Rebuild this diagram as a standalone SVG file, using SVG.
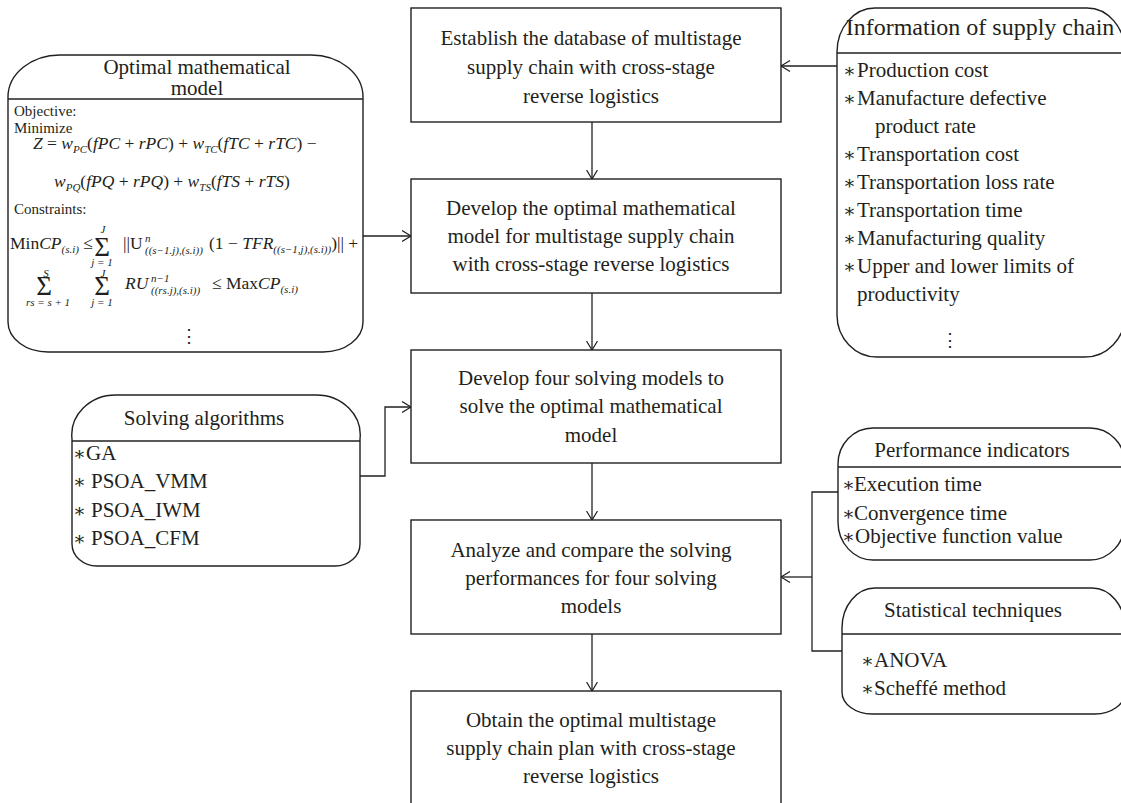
<svg xmlns="http://www.w3.org/2000/svg" width="1121" height="803" viewBox="0 0 1121 803">
  <style>
    .box { fill: #ffffff; stroke: #231f20; stroke-width: 1.4; }
    .ln { fill: none; stroke: #231f20; stroke-width: 1.3; }
    .t { font-family: "Liberation Serif", "DejaVu Serif", serif; font-size: 21px; fill: #231f20; }
    .c { text-anchor: middle; }
    .m { font-size: 17.5px; }
    .lb { font-size: 15px; }
    .s { font-size: 11px; }
    .it { font-style: italic; }
    .sig { font-size: 27px; }
    .hd { font-size: 24px; }
    .ast { font-size: 19px; }
    .dots { font-size: 18px; }
  </style>
  <defs>
    <marker id="ah" viewBox="0 0 12 12" markerWidth="12" markerHeight="12" refX="9.5" refY="6" orient="auto" markerUnits="userSpaceOnUse">
      <path d="M0.5,0.5 L9.5,6 L0.5,11.5" fill="none" stroke="#231f20" stroke-width="1.2"/>
    </marker>
  </defs>
  <rect width="1121" height="803" fill="#ffffff"/>

  <!-- connectors -->
  <g id="connectors">
    <line class="ln" x1="592" y1="122" x2="592" y2="179" marker-end="url(#ah)"/>
    <line class="ln" x1="592" y1="293" x2="592" y2="350" marker-end="url(#ah)"/>
    <line class="ln" x1="592" y1="463" x2="592" y2="520" marker-end="url(#ah)"/>
    <line class="ln" x1="592" y1="634" x2="592" y2="691" marker-end="url(#ah)"/>
    <line class="ln" x1="837" y1="66" x2="781" y2="66" marker-end="url(#ah)"/>
    <line class="ln" x1="363" y1="236" x2="411" y2="236" marker-end="url(#ah)"/>
    <polyline class="ln" points="360,476 385,476 385,407 411,407" marker-end="url(#ah)"/>
    <polyline class="ln" points="838,492 812,492 812,651 842,651"/>
    <line class="ln" x1="812" y1="577" x2="781" y2="577" marker-end="url(#ah)"/>
  </g>

  <!-- process steps -->
  <g id="step-database">
    <rect class="box" x="411" y="8" width="370" height="114"/>
    <text class="t c" x="591" y="45">Establish the database of multistage</text>
    <text class="t c" x="591" y="74">supply chain with cross-stage</text>
    <text class="t c" x="591" y="103">reverse logistics</text>
  </g>
  <g id="step-model">
    <rect class="box" x="411" y="179" width="370" height="114"/>
    <text class="t c" x="591" y="215">Develop the optimal mathematical</text>
    <text class="t c" x="591" y="243">model for multistage supply chain</text>
    <text class="t c" x="591" y="271">with cross-stage reverse logistics</text>
  </g>
  <g id="step-solving">
    <rect class="box" x="411" y="350" width="370" height="113"/>
    <text class="t c" x="591" y="385">Develop four solving models to</text>
    <text class="t c" x="591" y="413">solve the optimal mathematical</text>
    <text class="t c" x="591" y="442">model</text>
  </g>
  <g id="step-analyze">
    <rect class="box" x="411" y="520" width="370" height="114"/>
    <text class="t c" x="591" y="557">Analyze and compare the solving</text>
    <text class="t c" x="591" y="585">performances for four solving</text>
    <text class="t c" x="591" y="613">models</text>
  </g>
  <g id="step-obtain">
    <rect class="box" x="411" y="691" width="370" height="114"/>
    <text class="t c" x="591" y="727">Obtain the optimal multistage</text>
    <text class="t c" x="591" y="755">supply chain plan with cross-stage</text>
    <text class="t c" x="591" y="783">reverse logistics</text>
  </g>

  <!-- optimal mathematical model -->
  <g id="model-box">
    <path class="box" d="M8,97 A52,42 0 0 1 60,55 L311,55 A52,42 0 0 1 363,97 L363,322 A40,30 0 0 1 323,352 L48,352 A40,30 0 0 1 8,322 Z"/>
    <line class="ln" x1="8" y1="99" x2="363" y2="99"/>
    <text class="t c" x="197" y="74">Optimal mathematical</text>
    <text class="t c" x="197" y="95">model</text>
    <text class="t lb" x="14" y="116">Objective:</text>
    <text class="t lb" x="14" y="133">Minimize</text>
    <text class="t m" x="33" y="149"><tspan class="it">Z</tspan> = <tspan class="it">w</tspan><tspan class="s it" dy="4">PC</tspan><tspan dy="-4">(</tspan><tspan class="it">fPC</tspan> + <tspan class="it">rPC</tspan>) + <tspan class="it">w</tspan><tspan class="s it" dy="4">TC</tspan><tspan dy="-4">(</tspan><tspan class="it">fTC</tspan> + <tspan class="it">rTC</tspan>) −</text>
    <text class="t m" x="54" y="187"><tspan class="it">w</tspan><tspan class="s it" dy="4">PQ</tspan><tspan dy="-4">(</tspan><tspan class="it">fPQ</tspan> + <tspan class="it">rPQ</tspan>) + <tspan class="it">w</tspan><tspan class="s it" dy="4">TS</tspan><tspan dy="-4">(</tspan><tspan class="it">fTS</tspan> + <tspan class="it">rTS</tspan>)</text>
    <text class="t lb" x="14" y="214">Constraints:</text>
    <!-- first constraint -->
    <text class="t m" x="10" y="249">Min<tspan class="it">CP</tspan><tspan class="s it" dy="4">(s.i)</tspan><tspan dy="-4"> ≤</tspan></text>
    <text class="t sig c" x="102" y="256">Σ</text>
    <text class="t s it c" x="103" y="233">J</text>
    <text class="t s it c" x="102" y="266">j = 1</text>
    <text class="t m" x="123" y="249">||U</text>
    <text class="t s it" x="145" y="242">n</text>
    <text class="t s it" x="145" y="254">((s−1.j),(s.i))</text>
    <text class="t m" x="209" y="249">(1 − <tspan class="it">TFR</tspan><tspan class="s it" dy="4">((s−1,j),(s.i))</tspan><tspan dy="-4">)|| +</tspan></text>
    <!-- second constraint -->
    <text class="t sig c" x="44" y="295">Σ</text>
    <text class="t s it c" x="46" y="277">S</text>
    <text class="t s it c" x="48" y="306">rs = s + 1</text>
    <text class="t sig c" x="102" y="295">Σ</text>
    <text class="t s it c" x="103" y="277">J</text>
    <text class="t s it c" x="102" y="306">j = 1</text>
    <text class="t m it" x="125" y="289">RU</text>
    <text class="t s it" x="151" y="282">n−1</text>
    <text class="t s it" x="151" y="294">((rs.j),(s.i))</text>
    <text class="t m" x="212" y="289">≤ Max<tspan class="it">CP</tspan><tspan class="s it" dy="4">(s.i)</tspan></text>
    <text class="t dots c" x="189" y="342">⋮</text>
  </g>

  <!-- supply chain information -->
  <g id="info-box">
    <path class="box" d="M837,52 A38,44 0 0 1 875,8 L1087,8 A38,44 0 0 1 1125,52 L1125,315 A40,42 0 0 1 1085,357 L877,357 A40,42 0 0 1 837,315 Z"/>
    <line class="ln" x1="837" y1="53" x2="1125" y2="53"/>
    <text class="t hd c" x="980" y="35">Information of supply chain</text>
    <text class="t ast" x="843" y="77">∗</text><text class="t" x="857" y="77">Production cost</text>
    <text class="t ast" x="843" y="105">∗</text><text class="t" x="857" y="105">Manufacture defective</text>
    <text class="t" x="875" y="133">product rate</text>
    <text class="t ast" x="843" y="161">∗</text><text class="t" x="857" y="161">Transportation cost</text>
    <text class="t ast" x="843" y="189">∗</text><text class="t" x="857" y="189">Transportation loss rate</text>
    <text class="t ast" x="843" y="217">∗</text><text class="t" x="857" y="217">Transportation time</text>
    <text class="t ast" x="843" y="245">∗</text><text class="t" x="857" y="245">Manufacturing quality</text>
    <text class="t ast" x="843" y="273">∗</text><text class="t" x="857" y="273">Upper and lower limits of</text>
    <text class="t" x="857" y="301">productivity</text>
    <text class="t dots c" x="950" y="346">⋮</text>
  </g>

  <!-- solving algorithms -->
  <g id="algorithms-box">
    <path class="box" d="M72,439 A44,40 0 0 1 116,395 L316,395 A44,40 0 0 1 360,439 L360,544 A25,22 0 0 1 335,566 L97,566 A25,22 0 0 1 72,544 Z"/>
    <line class="ln" x1="72" y1="441" x2="360" y2="441"/>
    <text class="t c" x="204" y="425">Solving algorithms</text>
    <text class="t ast" x="73" y="460">∗</text><text class="t" x="86" y="460">GA</text>
    <text class="t ast" x="73" y="488">∗</text><text class="t" x="91" y="488">PSOA_VMM</text>
    <text class="t ast" x="73" y="517">∗</text><text class="t" x="91" y="517">PSOA_IWM</text>
    <text class="t ast" x="73" y="545">∗</text><text class="t" x="91" y="545">PSOA_CFM</text>
  </g>

  <!-- performance indicators -->
  <g id="performance-box">
    <path class="box" d="M838,464 A35,36 0 0 1 873,428 L1090,428 A35,36 0 0 1 1125,464 L1125,522 A35,38 0 0 1 1090,560 L873,560 A35,38 0 0 1 838,522 Z"/>
    <line class="ln" x1="838" y1="467" x2="1125" y2="467"/>
    <text class="t c" x="972" y="457">Performance indicators</text>
    <text class="t ast" x="842" y="491">∗</text><text class="t" x="854" y="491">Execution time</text>
    <text class="t ast" x="842" y="520">∗</text><text class="t" x="854" y="520">Convergence time</text>
    <text class="t ast" x="842" y="543">∗</text><text class="t" x="855" y="543">Objective function value</text>
  </g>

  <!-- statistical techniques -->
  <g id="statistics-box">
    <path class="box" d="M842,628 A33,40 0 0 1 875,588 L1092,588 A33,40 0 0 1 1125,628 L1125,692 A30,22 0 0 1 1095,714 L872,714 A30,22 0 0 1 842,692 Z"/>
    <line class="ln" x1="842" y1="634" x2="1125" y2="634"/>
    <text class="t c" x="973" y="617">Statistical techniques</text>
    <text class="t ast" x="861" y="667">∗</text><text class="t" x="874" y="667">ANOVA</text>
    <text class="t ast" x="861" y="695">∗</text><text class="t" x="874" y="695">Scheffé method</text>
  </g>
</svg>
